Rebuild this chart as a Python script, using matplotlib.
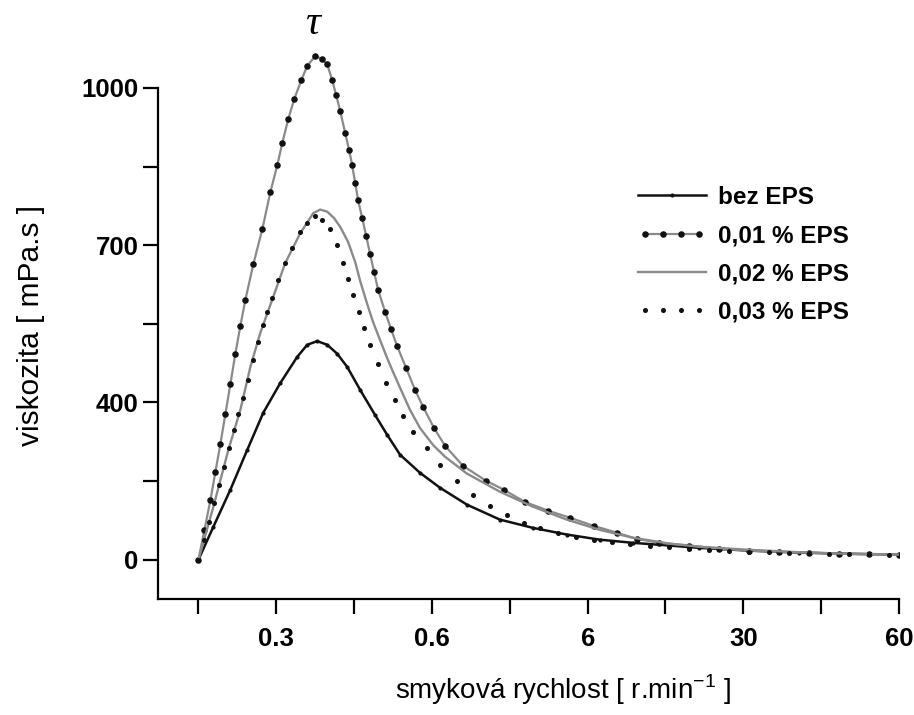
import numpy as np
import matplotlib
matplotlib.use("Agg")
import matplotlib.pyplot as plt
from matplotlib.legend_handler import HandlerLine2D

plt.rcParams['font.family'] = ['Liberation Sans', 'DejaVu Sans']
plt.rcParams['mathtext.fontset'] = 'custom'
plt.rcParams['mathtext.rm'] = 'Liberation Sans'

# x positions are in tick-index units (axis is drawn as equally spaced categories)
x_tick_labels = ['', '0.3', '', '0.6', '', '6', '', '30', '', '60']
y_tick_values = [0, 200, 400, 550, 700, 850, 1000]
y_tick_labels = ['0', '', '400', '', '700', '', '1000']

# bez EPS
x_bez = [0, 0.192, 0.410, 0.628, 0.833, 1.051, 1.269, 1.397, 1.526, 1.654, 1.782, 1.910,
         2.077, 2.269, 2.423, 2.590, 2.846, 3.103, 3.449, 3.872, 4.295, 4.731, 5.154,
         5.577, 6.051, 6.436, 7.077, 7.718, 8.359, 9.0]
y_bez = [0, 84, 178, 280, 374, 437, 487, 510, 517, 510, 493, 468,
         424, 368, 318, 267, 221, 183, 140, 102, 81, 64, 51,
         43, 36, 30, 23, 18, 15, 13]

# 0,01 % EPS
x_001 = [0, 0.077, 0.154, 0.218, 0.282, 0.346, 0.410, 0.474, 0.538, 0.603, 0.705, 0.821,
         0.923, 1.013, 1.077, 1.154, 1.231, 1.321, 1.397, 1.500, 1.590, 1.654, 1.718,
         1.769, 1.821, 1.885, 1.936, 1.974, 2.013, 2.051, 2.103, 2.154, 2.205, 2.256,
         2.308, 2.397, 2.474, 2.551, 2.667, 2.782, 2.885, 3.026, 3.167, 3.397, 3.692,
         3.923, 4.192, 4.487, 4.769, 5.077, 5.372, 5.628, 5.923, 6.308, 6.692, 7.077,
         7.462, 7.846, 8.231, 8.615, 9.0]
y_001 = [0, 76, 152, 224, 295, 371, 435, 493, 546, 596, 664, 731,
         801, 853, 895, 941, 979, 1015, 1042, 1061, 1055, 1045, 1015,
         986, 956, 914, 881, 853, 819, 786, 752, 718, 683, 649,
         615, 573, 540, 508, 466, 424, 389, 335, 290, 239, 201,
         178, 147, 125, 107, 86, 69, 53, 43, 36, 28, 23,
         20, 18, 15, 14, 13]

# 0,02 % EPS
x_002 = [0, 0.192, 0.385, 0.538, 0.667, 0.795, 0.923, 1.115, 1.308, 1.474, 1.564, 1.654,
         1.740, 1.821, 1.923, 2.013, 2.077, 2.167, 2.244, 2.333, 2.423, 2.500, 2.590, 2.718,
         2.846, 3.013, 3.167, 3.449, 3.872, 4.295, 4.731, 5.154, 5.577, 6.051, 6.436,
         7.077, 7.718, 8.359, 9.0]
y_002 = [0, 135, 280, 381, 468, 533, 586, 666, 723, 761, 768, 764,
         752, 735, 706, 668, 632, 588, 553, 519, 485, 458, 428, 381,
         335, 292, 262, 219, 173, 135, 102, 76, 56, 41, 33,
         25, 19, 15, 13]

# 0,03 % EPS
x_003 = [0, 0.077, 0.141, 0.205, 0.269, 0.333, 0.397, 0.462, 0.513, 0.577, 0.641, 0.705,
         0.769, 0.833, 0.885, 0.949, 1.026, 1.115, 1.205, 1.308, 1.397, 1.500, 1.590,
         1.692, 1.782, 1.859, 1.923, 1.987, 2.064, 2.128, 2.205, 2.308, 2.410, 2.526,
         2.628, 2.756, 2.936, 3.103, 3.321, 3.526, 3.744, 3.962, 4.179, 4.385, 4.615,
         4.846, 5.077, 5.308, 5.538, 5.795, 6.051, 6.308, 6.564, 6.821, 7.077, 7.333,
         7.590, 7.846, 8.103, 8.359, 8.615, 8.872]
y_003 = [0, 51, 97, 145, 191, 236, 285, 330, 371, 409, 443, 481,
         516, 548, 573, 599, 634, 666, 695, 725, 742, 756, 748,
         731, 700, 666, 636, 605, 573, 542, 510, 474, 437, 405,
         366, 325, 285, 241, 201, 165, 137, 114, 94, 81, 69,
         58, 51, 46, 41, 36, 32, 28, 25, 23, 20, 19,
         18, 17, 15, 15, 14, 13]


def fwd(v):
    v = np.asarray(v, dtype=float)
    return np.where(v <= 400, v / 200.0, 2.0 + (v - 400.0) / 150.0)


def inv(u):
    u = np.asarray(u, dtype=float)
    return np.where(u <= 2, u * 200.0, 400.0 + (u - 2.0) * 150.0)


fig = plt.figure(figsize=(9.14, 7.15), dpi=100)
ax = fig.add_axes([158 / 914, 1 - 599 / 715, (899 - 158) / 914, (599 - 40.8) / 715])
ax.set_yscale('function', functions=(fwd, inv))

gray = '#8a8a8a'
l_bez, = ax.plot(x_bez, y_bez, color='#111111', lw=1.8, marker='o', ms=2.0, label='bez EPS')
l_001, = ax.plot(x_001, y_001, color=gray, lw=1.6, marker='o', ms=3.7,
                 mfc='#111111', mec='#111111', label='0,01 % EPS')
l_002, = ax.plot(x_002, y_002, color=gray, lw=1.7, label='0,02 % EPS')
l_003, = ax.plot(x_003, y_003, ls='none', marker='o', ms=2.6, color='#111111',
                 label='0,03 % EPS')

ax.set_xlim(-0.52, 9.0)
ax.set_ylim(-100, 1090)
ax.set_xticks(range(10))
ax.set_xticklabels(x_tick_labels)
ax.set_yticks(y_tick_values)
ax.set_yticklabels(y_tick_labels)
ax.minorticks_off()

for s in ('top', 'right'):
    ax.spines[s].set_visible(False)
for s in ('left', 'bottom'):
    ax.spines[s].set_linewidth(1.6)
ax.spines['left'].set_bounds(-100, 1000)

ax.tick_params(axis='x', direction='out', length=11, width=1.6, pad=9,
               labelsize=18.5)
ax.tick_params(axis='y', direction='out', length=11, width=1.6, pad=3,
               labelsize=18.5)
for lab in ax.get_xticklabels() + ax.get_yticklabels():
    lab.set_fontweight('bold')

fig.text(31 / 914, 1 - 326 / 715, 'viskozita [ mPa.s ]', rotation=90,
         ha='center', va='center', fontsize=21.5)
fig.text(563 / 914, 1 - 690 / 715, r'smyková rychlost [ r.min$^{\mathregular{-1}}$ ]',
         ha='center', va='center', fontsize=20)
fig.text(313 / 914, 1 - 24 / 715, 'τ', ha='center', va='center', fontsize=30,
         family=['Liberation Serif', 'DejaVu Serif'], style='italic')

leg = ax.legend(handles=[l_bez, l_001, l_002, l_003],
                handler_map={l_bez: HandlerLine2D(numpoints=1),
                             l_001: HandlerLine2D(numpoints=4),
                             l_002: HandlerLine2D(numpoints=1),
                             l_003: HandlerLine2D(numpoints=4)},
                loc='upper left', bbox_to_anchor=(638 / 914, 1 - 186 / 715),
                bbox_transform=fig.transFigure, frameon=False, borderpad=0,
                borderaxespad=0, handlelength=2.8, handletextpad=0.5,
                labelspacing=0.62, prop={'weight': 'bold', 'size': 17.5})

fig.savefig('out.png', dpi=100)
